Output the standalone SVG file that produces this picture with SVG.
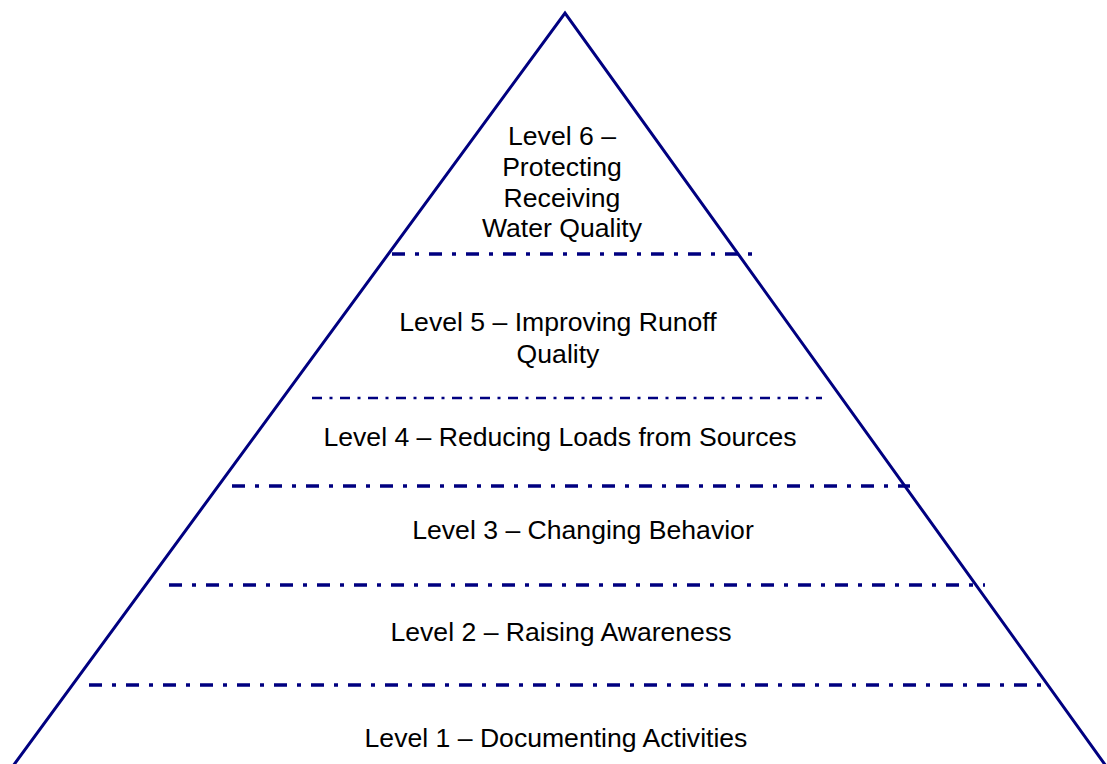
<svg xmlns="http://www.w3.org/2000/svg" width="1107" height="764" viewBox="0 0 1107 764">
<style>
.edge{fill:none;stroke:#000080;stroke-width:3}
.div{fill:none;stroke:#000080;stroke-width:3.5;stroke-dasharray:13 10 4 10}
.div2{fill:none;stroke:#000080;stroke-width:2.7;stroke-dasharray:10 7.5 3 7.5}
text{font-family:"Liberation Sans",Arial,sans-serif;font-size:26.6px;fill:#000;text-anchor:middle}
</style>
<rect width="1107" height="764" fill="#fff"/>
<g id="pyramid">
<polyline class="edge" points="13,766 565,13 1106,766"/>
</g>
<g id="connectors">
<line class="div" x1="392" y1="254" x2="762" y2="254"/>
<line class="div2" x1="312" y1="398" x2="822" y2="398"/>
<line class="div" x1="232" y1="486" x2="910" y2="486"/>
<line class="div" x1="169" y1="585" x2="985" y2="585"/>
<line class="div" x1="89" y1="685" x2="1050" y2="685"/>
</g>
<g id="level6">
<text x="562" y="145">Level 6 –</text>
<text x="562" y="176">Protecting</text>
<text x="562" y="207">Receiving</text>
<text x="562" y="237">Water Quality</text>
</g>
<g id="level5">
<text x="558" y="331">Level 5 – Improving Runoff</text>
<text x="558" y="363">Quality</text>
</g>
<g id="level4"><text x="560" y="446">Level 4 – Reducing Loads from Sources</text></g>
<g id="level3"><text x="583" y="539">Level 3 – Changing Behavior</text></g>
<g id="level2"><text x="561" y="641">Level 2 – Raising Awareness</text></g>
<g id="level1"><text x="556" y="747">Level 1 – Documenting Activities</text></g>
</svg>
